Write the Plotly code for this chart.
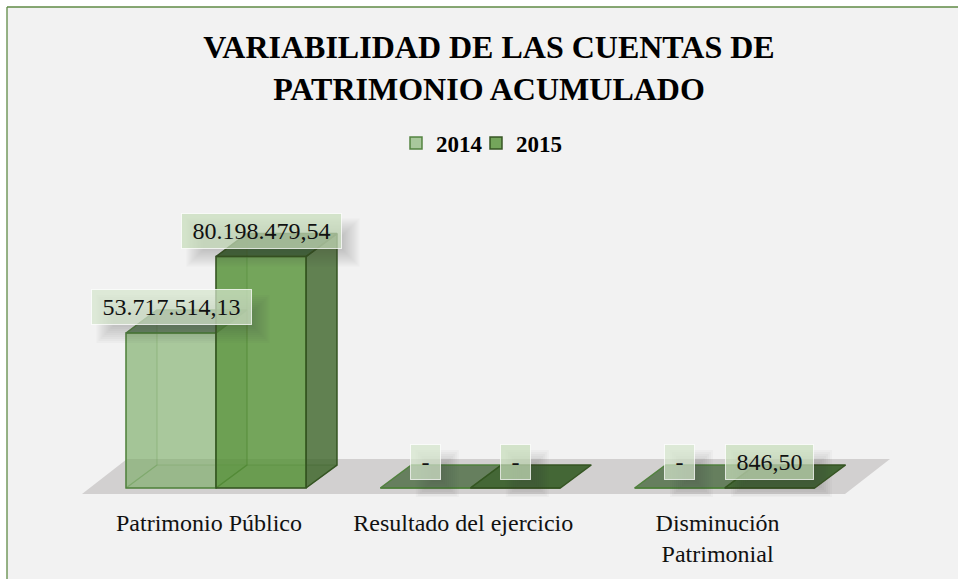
import plotly.graph_objects as go

title_text = "<b>VARIABILIDAD DE LAS CUENTAS DE<br>PATRIMONIO ACUMULADO</b>"
categories = ["Patrimonio Público", "Resultado del ejercicio", "Disminución<br>Patrimonial"]
series_names = ["2014", "2015"]
values_2014 = [53717514.13, 0, 0]
values_2015 = [80198479.54, 0, 846.50]
labels_2014 = ["53.717.514,13", "-", "-"]
labels_2015 = ["80.198.479,54", "-", "846,50"]

W, H = 958, 579
FONT = "Liberation Serif"
PLOT_BOTTOM = 497
ZERO_Y = 488
CAT_PX = 254.3
CAT0_PX = 209.0
PX_PER_VAL = 155.0 / 53717514.13
px_x = lambda p: p / CAT_PX
px_y = lambda p: p / PX_PER_VAL
x_range = [-CAT0_PX / CAT_PX, (W - CAT0_PX) / CAT_PX]
y_range = [-(PLOT_BOTTOM - ZERO_Y) / PX_PER_VAL, ZERO_Y / PX_PER_VAL]
BAR_W, DX, DY = px_x(90), px_x(31), px_y(23)
OFFS = [px_x(-83), px_x(7)]

STY = [
    dict(front="rgba(120,172,98,0.60)", edge="rgba(78,128,58,0.95)", side="rgba(110,150,90,0.12)",
         top="rgba(60,95,50,0.72)", inner="rgba(100,145,80,0.07)", faint="rgba(78,128,58,0.30)"),
    dict(front="rgba(84,145,52,0.80)", edge="rgba(52,84,34,0.98)", side="rgba(60,100,40,0.80)",
         top="rgba(48,88,32,0.88)", inner="rgba(70,115,50,0.10)", faint="rgba(52,84,34,0.40)"),
]

fig = go.Figure()


def face(xs, ys, fill, line, w=1.5):
    fig.add_trace(go.Scatter(x=xs, y=ys, mode="lines", fill="toself", fillcolor=fill,
                             line=dict(color=line, width=w), hoverinfo="skip", showlegend=False,
                             xaxis="x", yaxis="y"))


# floor of the 3-D box
fl_l, fl_r = x_range[0] + px_x(82), x_range[0] + px_x(845)
fl_b, fl_dx, fl_dy = px_y(-6), px_x(45), px_y(35)
face([fl_l, fl_r, fl_r + fl_dx, fl_l + fl_dx, fl_l], [fl_b, fl_b, fl_b + fl_dy, fl_b + fl_dy, fl_b],
     "#d2d0d0", "rgba(0,0,0,0)", 0)

all_vals = [values_2014, values_2015]
for s, vals in enumerate(all_vals):
    st = STY[s]
    for i, v in enumerate(vals):
        l = i + OFFS[s]
        r = l + BAR_W
        if v > 1e5:
            # floor, left and back faces seen through the translucent front
            face([l, r, r + DX, l + DX, l], [0, 0, DY, DY, 0], st["inner"], st["faint"], 1.2)
            face([l, l + DX, l + DX, l, l], [0, DY, v + DY, v, 0], st["inner"], st["faint"], 1.2)
            face([r, r + DX, r + DX, r, r], [0, DY, v + DY, v, 0], st["side"], st["edge"] if s else st["faint"])
        face([l, r, r + DX, l + DX, l], [v, v, v + DY, v + DY, v], st["top"], st["edge"])

# front faces
legend_ids = ["legend", "legend2"]
for s, vals in enumerate(all_vals):
    fig.add_trace(go.Bar(x=list(range(len(categories))), y=vals, name=series_names[s], legend=legend_ids[s],
                         width=BAR_W, offset=OFFS[s], xaxis="x2", yaxis="y2",
                         marker=dict(color=STY[s]["front"], line=dict(color=STY[s]["edge"], width=1.5)),
                         hoverinfo="skip"))

shapes = [
    dict(type="rect", xref="paper", yref="paper", x0=0, x1=7 / W, y0=-1, y1=1.1, fillcolor="white",
         line_width=0, layer="below"),
    dict(type="rect", xref="paper", yref="paper", x0=0, x1=1, y0=1 - 7 / PLOT_BOTTOM, y1=1.1, fillcolor="white",
         line_width=0, layer="below"),
    dict(type="line", xref="paper", yref="paper", x0=7 / W, x1=7 / W, y0=-1, y1=1 - 7 / PLOT_BOTTOM,
         line=dict(color="#5f8a45", width=1.3), layer="below"),
    dict(type="line", xref="paper", yref="paper", x0=7 / W, x1=1, y0=1 - 7 / PLOT_BOTTOM, y1=1 - 7 / PLOT_BOTTOM,
         line=dict(color="#5f8a45", width=1.3), layer="below"),
]

annotations = []
for s, (vals, labs) in enumerate(zip(all_vals, [labels_2014, labels_2015])):
    for i, (v, lab) in enumerate(zip(vals, labs)):
        cx = i + OFFS[s] + BAR_W / 2
        bw = 161 if len(lab) > 8 else (89 if len(lab) > 1 else 31)
        # soft offset shadow under each label box
        for k in range(9):
            g = 6 - 2 * k
            shapes.append(dict(type="rect", xref="x", yref="y", xsizemode="pixel", ysizemode="pixel",
                               xanchor=cx, yanchor=v,
                               x0=-bw / 2 + 12 - g, x1=bw / 2 + 12 + g,
                               y0=26 - 18 - 12 - g, y1=26 + 18 - 12 + g,
                               fillcolor="rgba(60,60,60,0.032)", line_width=0, layer="above"))
        annotations.append(dict(x=cx, y=v, xref="x", yref="y", yshift=26, text=lab, showarrow=False,
                                xanchor="center", yanchor="middle", width=bw - 2, height=34,
                                font=dict(family=FONT, size=24, color="#111111"),
                                bgcolor="rgba(198,220,186,0.72)" if s else "rgba(212,228,204,0.72)",
                                bordercolor="rgba(255,255,255,0.75)", borderwidth=1, borderpad=0))

legend_font = dict(family=FONT, size=23, color="#000000", weight="bold")
fig.update_layout(
    width=W, height=H, autosize=False,
    margin=dict(l=0, r=0, t=0, b=H - PLOT_BOTTOM, pad=0, autoexpand=False),
    paper_bgcolor="#f2f2f2", plot_bgcolor="rgba(0,0,0,0)",
    font=dict(family=FONT, color="#111111"),
    title=dict(text=title_text, x=489 / W, xanchor="center", xref="paper", y=1 - 58 / H, yanchor="top",
               font=dict(family=FONT, size=32, color="#000000")),
    barmode="overlay", showlegend=True,
    legend=dict(orientation="h", x=396 / W, xanchor="left", y=1 - 143 / PLOT_BOTTOM, yanchor="middle",
                font=legend_font, bgcolor="rgba(0,0,0,0)", itemwidth=30),
    legend2=dict(orientation="h", x=476 / W, xanchor="left", y=1 - 143 / PLOT_BOTTOM, yanchor="middle",
                 font=legend_font, bgcolor="rgba(0,0,0,0)", itemwidth=30),
    xaxis=dict(range=x_range, tickmode="array", tickvals=[0, 1, 2], ticktext=categories, ticklabelstandoff=9,
               showgrid=False, zeroline=False, showline=False, ticks="", fixedrange=True, automargin=False,
               tickfont=dict(family=FONT, size=24, color="#111111")),
    yaxis=dict(range=y_range, visible=False, fixedrange=True),
    xaxis2=dict(range=x_range, overlaying="x", visible=False, fixedrange=True),
    yaxis2=dict(range=y_range, overlaying="y", visible=False, fixedrange=True),
    shapes=shapes, annotations=annotations,
)

fig.write_html("out.html", config=dict(displayModeBar=False),
               post_script="document.body.style.margin='0';document.body.style.overflow='hidden';")
